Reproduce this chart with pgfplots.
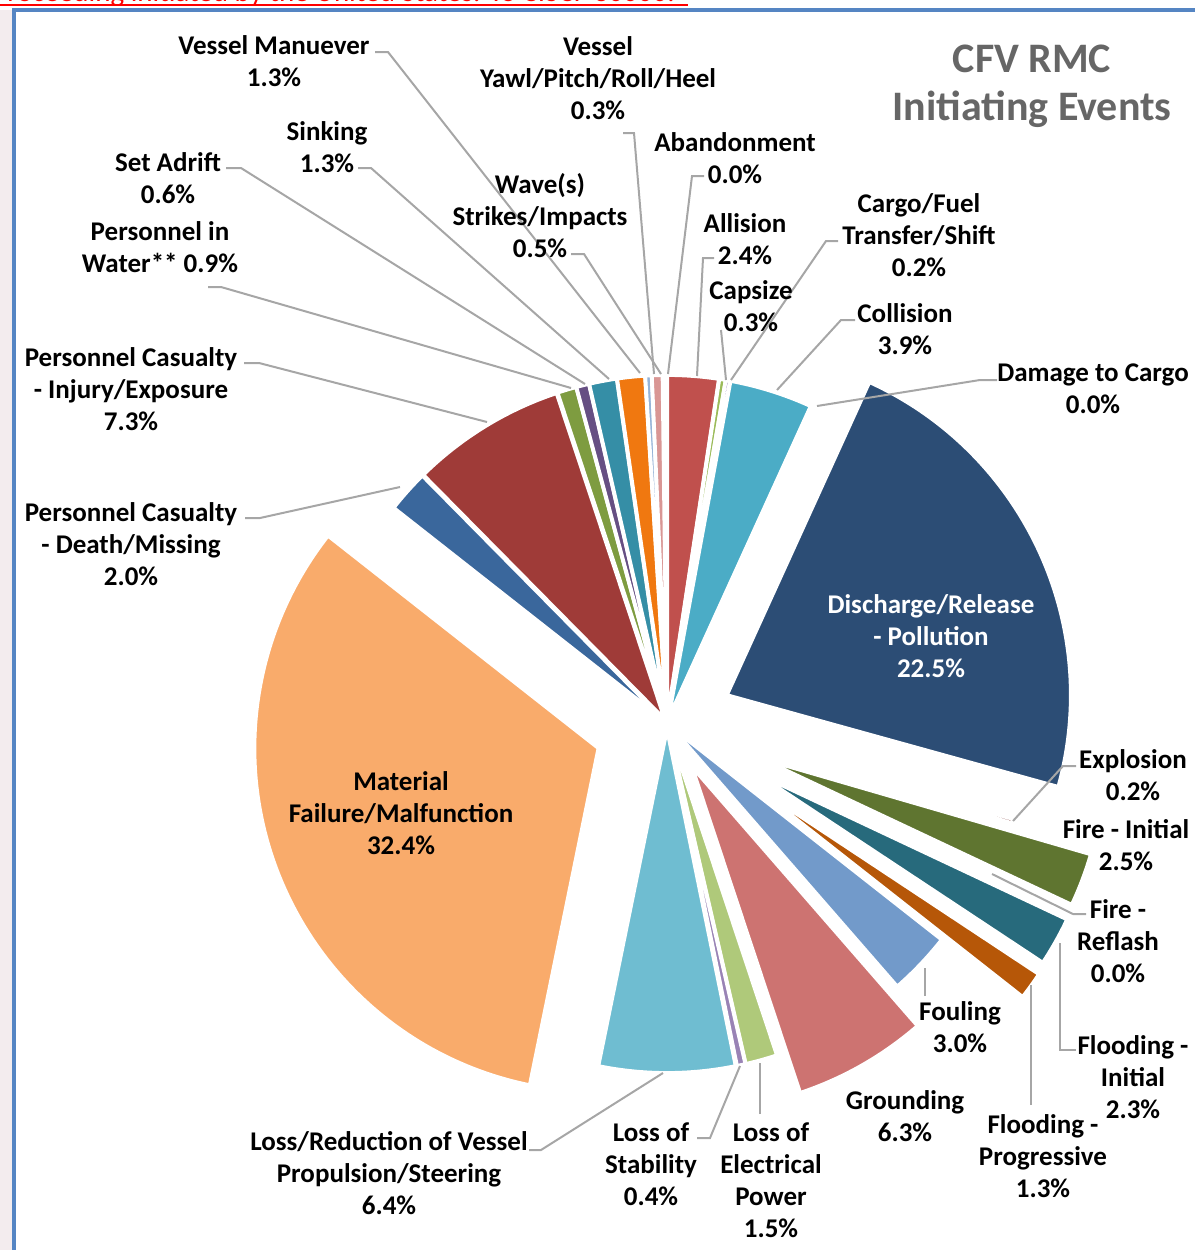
\documentclass[border=0pt]{standalone}
\usepackage{fontspec}
\setmainfont{Carlito}
\usepackage{pgfplots}
\usepackage{pgfplotstable}
\pgfplotsset{compat=1.18}

\definecolor{cAband}{HTML}{4F81BD}
\definecolor{cAllis}{HTML}{C0504D}
\definecolor{cCaps}{HTML}{9BBB59}
\definecolor{cCargo}{HTML}{8064A2}
\definecolor{cColl}{HTML}{4BACC6}
\definecolor{cDamage}{HTML}{F79646}
\definecolor{cDisch}{HTML}{2C4D75}
\definecolor{cExpl}{HTML}{772C2A}
\definecolor{cFireI}{HTML}{5F7530}
\definecolor{cFireR}{HTML}{4D3B62}
\definecolor{cFloodI}{HTML}{276A7C}
\definecolor{cFloodP}{HTML}{B65708}
\definecolor{cFoul}{HTML}{729ACA}
\definecolor{cGround}{HTML}{CD7371}
\definecolor{cElec}{HTML}{AFC97A}
\definecolor{cStab}{HTML}{9983B5}
\definecolor{cProp}{HTML}{6FBDD1}
\definecolor{cMat}{HTML}{F9AB6B}
\definecolor{cDeath}{HTML}{3A679C}
\definecolor{cInjury}{HTML}{9F3B38}
\definecolor{cWater}{HTML}{7E9C40}
\definecolor{cAdrift}{HTML}{664F83}
\definecolor{cSink}{HTML}{358EA6}
\definecolor{cManeuv}{HTML}{F07810}
\definecolor{cYawl}{HTML}{95B3D7}
\definecolor{cWave}{HTML}{D99694}
\definecolor{leader}{HTML}{A6A6A6}
\definecolor{titlegray}{HTML}{666666}
\definecolor{framebl}{HTML}{5585C3}
\definecolor{sidebg}{HTML}{F3ECEE}

% share of initiating events, clockwise from 12 o'clock; expl = slice pull-out (px)
\pgfplotstableread{
name              pct   expl  col
Abandonment       0.0   4     cAband
Allision          2.4   4     cAllis
Capsize           0.3   4     cCaps
CargoFuel         0.2   4     cCargo
Collision         3.9   4     cColl
DamageCargo       0.0   4     cDamage
Discharge         22.5  66    cDisch
Explosion         0.2   15    cExpl
FireInitial       2.5   100   cFireI
FireReflash       0.0   100   cFireR
FloodInitial      2.3   102   cFloodI
FloodProgressive  1.3   105   cFloodP
Fouling           3.0   6     cFoul
Grounding         6.3   50    cGround
LossElectrical    1.5   6     cElec
LossStability     0.4   6     cStab
LossPropulsion    6.4   6     cProp
MaterialFailure   32.4  73    cMat
PCDeath           2.0   4     cDeath
PCInjury          7.3   4     cInjury
PersonnelWater    0.9   4     cWater
SetAdrift         0.6   4     cAdrift
Sinking           1.3   4     cSink
VesselManeuver    1.3   4     cManeuv
VesselYawl        0.3   4     cYawl
Waves             0.5   4     cWave
}\piedata

\begin{document}
\begin{tikzpicture}[lbl/.style={font=\bfseries\fontsize{13.5bp}{16bp}\selectfont, align=center, inner sep=0pt, text=black}]
\path[use as bounding box] (0,0) rectangle (597.5bp,625bp);
\begin{axis}[at={(0,0)}, anchor=south west, scale only axis,
  width=597.5bp, height=625bp, xmin=0, xmax=1195, ymin=0, ymax=1250,
  y dir=reverse, hide axis, clip=false]

% frame and clipped header of the slide
\fill[sidebg] (axis cs:0,10) rectangle (axis cs:13,1250);
\node[anchor=base west, inner sep=0pt, text=red, font=\fontsize{14.5bp}{16bp}\selectfont] at (axis cs:-8,1) {Proceeding initiated by the United States. To CISCF 30000.};
\draw[red, line width=0.7bp] (axis cs:0,5) -- (axis cs:688,5);
\draw[framebl, line width=1.6bp] (axis cs:14,1252) -- (axis cs:14,10) -- (axis cs:1197,10);

% pie slices
\def\R{172bp}
\xdef\cum{0}
\pgfplotsforeachungrouped \i in {0,...,25}{
  \pgfplotstablegetelem{\i}{pct}\of\piedata \let\slicepct\pgfplotsretval
  \pgfplotstablegetelem{\i}{expl}\of\piedata \let\sliceex\pgfplotsretval
  \pgfplotstablegetelem{\i}{col}\of\piedata \let\slicecol\pgfplotsretval
  \pgfmathsetmacro\angA{90-3.6*\cum}
  \pgfmathsetmacro\angB{90-3.6*(\cum+\slicepct)}
  \pgfmathsetmacro\angM{(\angA+\angB)/2}
  \pgfmathsetmacro\exd{\sliceex*0.5}
  \pgfmathsetmacro\tmpcum{\cum+\slicepct}
  \xdef\cum{\tmpcum}
  \edef\temp{\noexpand\fill[\slicecol, draw=white, line width=1.9bp, line join=round]
    (axis cs:667,723) ++(\angM:\exd bp) -- ++(\angA:\R)
    arc[start angle=\angA, end angle=\angB, radius=\R] -- cycle;}
  \temp
}

% leader lines
\begin{scope}[leader, line width=1bp]
\draw (axis cs:375,52) -- (axis cs:388,52) -- (axis cs:640,373);
\draw (axis cs:623,133) -- (axis cs:634,133) -- (axis cs:654,374);
\draw (axis cs:358,168) -- (axis cs:371,168) -- (axis cs:609,379);
\draw (axis cs:226,168) -- (axis cs:241,168) -- (axis cs:585,384);
\draw (axis cs:571,254) -- (axis cs:584,254) -- (axis cs:661,374);
\draw (axis cs:208,287) -- (axis cs:221,287) -- (axis cs:571,388);
\draw (axis cs:244,363) -- (axis cs:259,363) -- (axis cs:487,422);
\draw (axis cs:245,518) -- (axis cs:260,518) -- (axis cs:400,487);
\draw (axis cs:704,176) -- (axis cs:692,176) -- (axis cs:668,374);
\draw (axis cs:714,258) -- (axis cs:703,258) -- (axis cs:697,376);
\draw (axis cs:721,330) -- (axis cs:726,380);
\draw (axis cs:838,241) -- (axis cs:826,241) -- (axis cs:731,380);
\draw (axis cs:855,320) -- (axis cs:841,320) -- (axis cs:777,390);
\draw (axis cs:997,380) -- (axis cs:980,380) -- (axis cs:817,406);
\draw (axis cs:1076,766) -- (axis cs:1063,766) -- (axis cs:1013,821);
\draw (axis cs:1086,914) -- (axis cs:1073,914) -- (axis cs:992,874);
\draw (axis cs:1076,1050) -- (axis cs:1060,1050) -- (axis cs:1060,943);
\draw (axis cs:1031,1105) -- (axis cs:1031,985);
\draw (axis cs:925,996) -- (axis cs:925,968);
\draw (axis cs:760,1114) -- (axis cs:760,1063);
\draw (axis cs:529,1150) -- (axis cs:541,1150) -- (axis cs:663,1073);
\draw (axis cs:697,1138) -- (axis cs:710,1138) -- (axis cs:740,1066);
\end{scope}

% data labels
\node[lbl] at (axis cs:274,61) {Vessel Manuever\\1.3\%};
\node[lbl] at (axis cs:598,78) {Vessel\\Yawl/Pitch/Roll/Heel\\0.3\%};
\node[lbl] at (axis cs:327,147) {Sinking\\1.3\%};
\node[lbl] at (axis cs:735,158) {Abandonment\\0.0\%};
\node[lbl] at (axis cs:168,178) {Set Adrift\\0.6\%};
\node[lbl] at (axis cs:540,216) {Wave(s)\\Strikes/Impacts\\0.5\%};
\node[lbl] at (axis cs:919,235) {Cargo/Fuel\\Transfer/Shift\\0.2\%};
\node[lbl] at (axis cs:745,239) {Allision\\2.4\%};
\node[lbl] at (axis cs:160,247) {Personnel in\\Water** 0.9\%};
\node[lbl] at (axis cs:751,306) {Capsize\\0.3\%};
\node[lbl] at (axis cs:905,329) {Collision\\3.9\%};
\node[lbl] at (axis cs:131,389) {Personnel Casualty\\- Injury/Exposure\\7.3\%};
\node[lbl] at (axis cs:1093,389) {Damage to Cargo\\0.0\%};
\node[lbl] at (axis cs:131,544) {Personnel Casualty\\- Death/Missing\\2.0\%};
\node[lbl, text=white] at (axis cs:931,636) {Discharge/Release\\- Pollution\\22.5\%};
\node[lbl] at (axis cs:1133,775) {Explosion\\0.2\%};
\node[lbl] at (axis cs:401,813) {Material\\Failure/Malfunction\\32.4\%};
\node[lbl] at (axis cs:1126,845) {Fire - Initial\\2.5\%};
\node[lbl] at (axis cs:1118,941) {Fire -\\Reflash\\0.0\%};
\node[lbl] at (axis cs:960,1027) {Fouling\\3.0\%};
\node[lbl] at (axis cs:1133,1077) {Flooding -\\Initial\\2.3\%};
\node[lbl] at (axis cs:905,1116) {Grounding\\6.3\%};
\node[lbl] at (axis cs:1043,1156) {Flooding -\\Progressive\\1.3\%};
\node[lbl] at (axis cs:389,1173) {Loss/Reduction of Vessel\\Propulsion/Steering\\6.4\%};
\node[lbl] at (axis cs:651,1164) {Loss of\\Stability\\0.4\%};
\node[lbl] at (axis cs:771,1180) {Loss of\\Electrical\\Power\\1.5\%};

% title
\node[align=center, inner sep=0pt, text=titlegray, font=\bfseries\fontsize{21bp}{24bp}\selectfont] at (axis cs:1032,86) {CFV RMC\\Initiating Events};
\end{axis}
\end{tikzpicture}
\end{document}
